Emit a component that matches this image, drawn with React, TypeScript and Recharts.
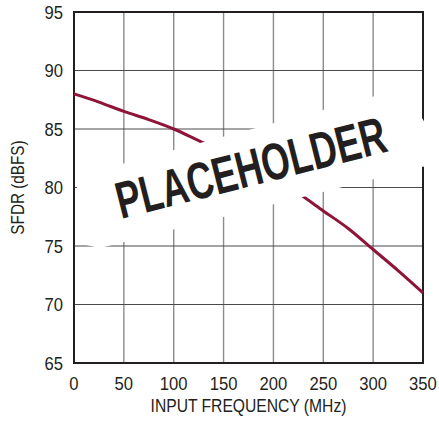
import { CartesianGrid, Label, Line, LineChart, ReferenceArea, XAxis, YAxis } from "recharts";

const frequencies = [0, 25, 50, 75, 100, 125, 150, 175, 200, 225, 250, 275, 300, 325, 350];
const sfdrValues = [88, 87.3, 86.5, 85.8, 85, 84, 83, 82, 80.8, 79.5, 78, 76.5, 74.7, 72.9, 71];
const xTicks = [0, 50, 100, 150, 200, 250, 300, 350];
const yTicks = [65, 70, 75, 80, 85, 90, 95];

const data = frequencies.map((freq, i) => ({ freq, sfdr: sfdrValues[i] }));

const FONT = '"Liberation Sans", Arial, sans-serif';
const INK = "#231f20";

// narrow the regular font a bit, the original uses a condensed face
function XTick(props: any) {
  const { x, y, payload } = props;
  return (
    <text
      transform={`translate(${x},${y}) scale(0.9,1)`}
      textAnchor="middle"
      dy="0.71em"
      fill={INK}
      fontFamily={FONT}
      fontSize={18.5}
    >
      {payload.value}
    </text>
  );
}

function YTick(props: any) {
  const { x, y, payload } = props;
  return (
    <text
      transform={`translate(${x},${y}) scale(0.9,1)`}
      textAnchor="end"
      dy="0.355em"
      fill={INK}
      fontFamily={FONT}
      fontSize={18.5}
    >
      {payload.value}
    </text>
  );
}

function YLabel(props: any) {
  const vb = props.viewBox || { x: 0, y: 0, width: 0, height: 0 };
  const cx = 18;
  const cy = vb.y + vb.height / 2;
  return (
    <text
      transform={`translate(${cx},${cy}) rotate(-90) scale(0.85,1)`}
      textAnchor="middle"
      dominantBaseline="central"
      fill={INK}
      fontFamily={FONT}
      fontSize={18}
    >
      SFDR (dBFS)
    </text>
  );
}

function XLabel(props: any) {
  const vb = props.viewBox || { x: 0, y: 0, width: 0, height: 0 };
  return (
    <text
      transform={`translate(${vb.x + vb.width / 2},406) scale(0.87,1)`}
      textAnchor="middle"
      dominantBaseline="central"
      fill={INK}
      fontFamily={FONT}
      fontSize={18}
    >
      INPUT FREQUENCY (MHz)
    </text>
  );
}

function Watermark() {
  return (
    <svg
      width={439}
      height={421}
      style={{ position: "absolute", left: 0, top: 0, pointerEvents: "none" }}
    >
      <polygon points="77,176 405,88 426,125 426,166 100,248 77,243" fill="#fff" />
      <text
        x={121}
        y={219}
        transform="rotate(-14.2 121 219)"
        textLength={277}
        lengthAdjust="spacingAndGlyphs"
        fill={INK}
        fontFamily={FONT}
        fontWeight="bold"
        fontSize={52}
      >
        PLACEHOLDER
      </text>
    </svg>
  );
}

export default function App() {
  return (
    <div
      style={{
        position: "fixed",
        left: 0,
        top: 0,
        width: 439,
        height: 421,
        background: "#fff"
      }}
    >
      <LineChart width={439} height={421} data={data} margin={{ top: 12, right: 16, bottom: 0, left: 0 }}>
        <CartesianGrid horizontal={false} stroke="#8c8c8c" strokeWidth={1.4} />
        <CartesianGrid vertical={false} stroke="#4a4a4a" strokeWidth={1.2} />
        <XAxis
          type="number"
          dataKey="freq"
          domain={[0, 350]}
          ticks={xTicks}
          height={58}
          axisLine={false}
          tickLine={false}
          tickMargin={8}
          tick={XTick}
          interval={0}
        >
          <Label content={XLabel} />
        </XAxis>
        <YAxis
          type="number"
          domain={[65, 95]}
          ticks={yTicks}
          width={74}
          axisLine={false}
          tickLine={false}
          tickMargin={5}
          tick={YTick}
          interval={0}
        >
          <Label content={YLabel} />
        </YAxis>
        <ReferenceArea
          x1={0}
          x2={350}
          y1={65}
          y2={95}
          fill="none"
          stroke={INK}
          strokeWidth={2}
          fillOpacity={0}
        />
        <Line
          type="monotone"
          dataKey="sfdr"
          stroke="#8e1538"
          strokeWidth={3}
          dot={false}
          activeDot={false}
          isAnimationActive={false}
        />
      </LineChart>
      <Watermark />
    </div>
  );
}
